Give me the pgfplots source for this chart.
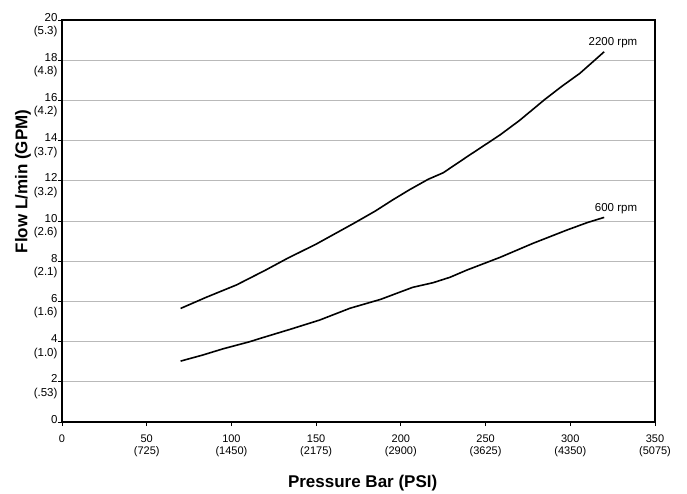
\documentclass[border=0pt]{standalone}
\usepackage{fontspec}
\setmainfont{Liberation Sans}
\usepackage{pgfplots}
\pgfplotsset{compat=1.18}
\begin{document}
\begin{tikzpicture}
\begin{axis}[
  scale only axis, width=593pt, height=402pt,
  xmin=0, xmax=350, ymin=0, ymax=20,
  xtick={0,50,100,150,200,250,300,350},
  ytick={0,2,4,6,8,10,12,14,16,18,20},
  xticklabels={0,{50\\(725)},{100\\(1450)},{150\\(2175)},{200\\(2900)},{250\\(3625)},{300\\(4350)},{350\\(5075)}},
  yticklabels={0,{2\\(.53)},{4\\(1.0)},{6\\(1.6)},{8\\(2.1)},{10\\(2.6)},{12\\(3.2)},{14\\(3.7)},{16\\(4.2)},{18\\(4.8)},{20\\(5.3)}},
  xticklabel style={align=center, yshift=-5pt, font=\fontsize{11}{12}\selectfont},
  yticklabel style={align=right, anchor=north east, yshift=10.5pt, xshift=3pt, font=\fontsize{11.5}{13.5}\selectfont},
  axis line style={line width=1.6pt},
  tick style={black, line width=0.8pt},
  tick align=outside, major tick length=4pt,
  xtick pos=bottom, ytick pos=left,
  ymajorgrids, grid style={gray!55, line width=0.8pt},
  xlabel={Pressure Bar (PSI)}, ylabel={Flow L/min (GPM)},
  label style={font=\fontsize{17}{20}\selectfont\bfseries},
  xlabel style={at={(axis description cs:0.507,0)}, anchor=base, yshift=-65pt},
  ylabel style={at={(axis description cs:0,0.598)}, anchor=center, yshift=39pt},
  clip=false,
]
\addplot[black, line width=1.6pt, line join=round] coordinates {
(70,5.65) (85,6.2) (103,6.82) (120,7.55) (133,8.14) (150,8.85) (173,9.92) (185,10.5) (195,11.04) (205,11.55) (216,12.07) (225,12.4) (240,13.25) (258.5,14.28) (270,15.0) (285,16.05) (295,16.7) (305.7,17.35) (315.6,18.09) (320,18.42)
};
\addplot[black, line width=1.6pt, line join=round] coordinates {
(70,3.03) (83,3.33) (95,3.64) (111,4.0) (117,4.16) (135,4.62) (152,5.07) (170,5.66) (188,6.1) (200,6.48) (207,6.70) (219,6.93) (229,7.2) (239,7.56) (258.5,8.19) (278,8.89) (298,9.55) (310,9.92) (320,10.18)
};
\node[font=\fontsize{11.5}{13}\selectfont] at (axis cs:325.2,18.88) {2200 rpm};
\node[font=\fontsize{11.5}{13}\selectfont] at (axis cs:327,10.62) {600 rpm};
\end{axis}
\pgfresetboundingbox
\path[use as bounding box] (current axis.south west) ++(-62pt,-71pt) rectangle ++(687pt,493pt);
\end{tikzpicture}
\end{document}
